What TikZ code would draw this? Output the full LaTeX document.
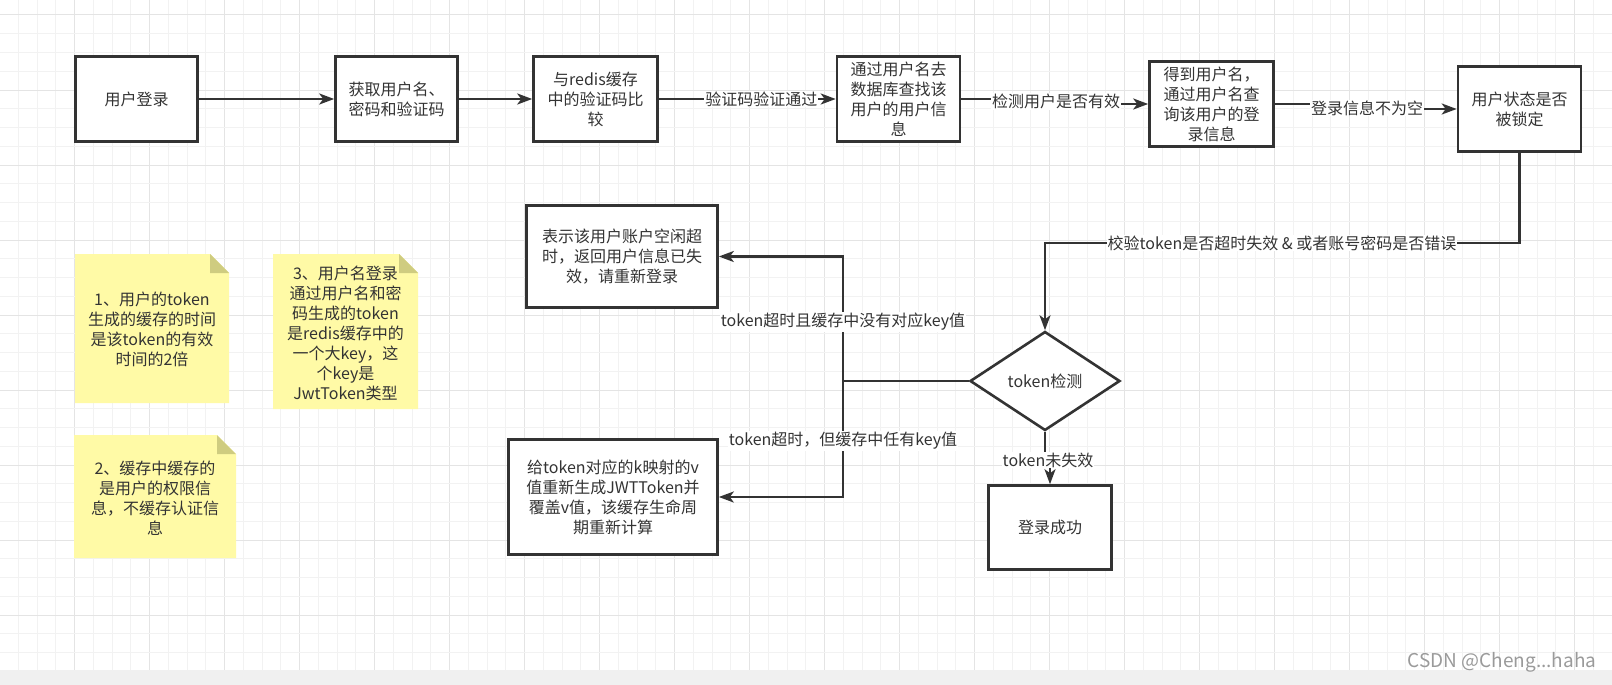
\documentclass[tikz,border=0pt]{standalone}
\usepackage{fontspec}
\setmainfont{Noto Sans CJK SC}
\usetikzlibrary{arrows.meta,shapes.geometric}
\definecolor{ink}{HTML}{333333}
\definecolor{gridminor}{HTML}{F2F2F2}
\definecolor{gridmajor}{HTML}{E4E4E4}
\definecolor{notefill}{HTML}{FFFAA6}
\definecolor{notefold}{HTML}{CFCC80}
\definecolor{band}{HTML}{F0F0F0}
\definecolor{wmark}{HTML}{9A9A9A}
\newcommand\myfs{\fontsize{16}{20}\selectfont}
\tikzset{
  box/.style={draw=ink, line width=2.6pt, fill=white, align=center, text=ink, font=\myfs, inner sep=2pt},
  decision/.style={draw=ink, line width=2.6pt, fill=white, shape=diamond, inner sep=0pt, text=ink, font=\myfs},
  conn/.style={draw=ink, line width=2.4pt, -{Stealth[length=15pt,width=11pt,inset=4pt]}},
  plain/.style={draw=ink, line width=2.4pt},
  lab/.style={fill=white, inner sep=1pt, text=ink, font=\myfs},
  notetext/.style={align=center, text=ink, font=\myfs, inner sep=0pt},
}
\begin{document}
\begin{tikzpicture}[x=1pt,y=-1pt]
\useasboundingbox (0,0) rectangle (1612,685);
% background and grid
\fill[white] (0,0) rectangle (1612,670);
\foreach \k in {1,...,85} {
  \pgfmathsetmacro\xx{18.75*\k-0.3}
  \pgfmathtruncatemacro\mm{mod(\k,4)}
  \ifnum\mm=0
    \draw[gridmajor, line width=1pt] (\xx,0) -- (\xx,670);
  \else
    \draw[gridminor, line width=1pt] (\xx,0) -- (\xx,670);
  \fi
}
\foreach \k in {0,...,34} {
  \pgfmathsetmacro\yy{15+18.75*\k}
  \pgfmathtruncatemacro\mm{mod(\k,4)}
  \ifnum\mm=0
    \draw[gridmajor, line width=1pt] (0,\yy) -- (1612,\yy);
  \else
    \draw[gridminor, line width=1pt] (0,\yy) -- (1612,\yy);
  \fi
}
\fill[band] (0,670) rectangle (1612,685);

% notes
\fill[notefill] (75,254) -- (210,254) -- (229,273) -- (229,403) -- (75,403) -- cycle;
\fill[notefold] (210,254) -- (210,273) -- (229,273) -- cycle;
\node[notetext] (note1) at (152,329) {1、用户的token\\生成的缓存的时间\\是该token的有效\\时间的2倍};

\fill[notefill] (273,254) -- (399,254) -- (418,273) -- (418,409) -- (273,409) -- cycle;
\fill[notefold] (399,254) -- (399,273) -- (418,273) -- cycle;
\node[notetext] (note3) at (345.5,333) {3、用户名登录\\通过用户名和密\\码生成的token\\是redis缓存中的\\一个大key，这\\个key是\\JwtToken类型};

\fill[notefill] (74,435) -- (217,435) -- (236,454) -- (236,558) -- (74,558) -- cycle;
\fill[notefold] (217,435) -- (217,454) -- (236,454) -- cycle;
\node[notetext] (note2) at (155,498) {2、缓存中缓存的\\是用户的权限信\\息，不缓存认证信\\息};

% boxes
\node[box, minimum width=122pt, minimum height=85pt] (n1) at (136.5,99) {用户登录};
\node[box, minimum width=122pt, minimum height=85pt] (n2) at (396.5,99) {获取用户名、\\密码和验证码};
\node[box, minimum width=124pt, minimum height=85pt] (n3) at (595.5,99) {与redis缓存\\中的验证码比\\较};
\node[box, minimum width=123pt, minimum height=85pt] (n4) at (898.5,99) {通过用户名去\\数据库查找该\\用户的用户信\\息};
\node[box, minimum width=124pt, minimum height=85pt] (n5) at (1211.5,104) {得到用户名，\\通过用户名查\\询该用户的登\\录信息};
\node[box, minimum width=123pt, minimum height=85pt] (n6) at (1519.5,109) {用户状态是否\\被锁定};
\node[box, minimum width=191pt, minimum height=102pt] (n7) at (622,256.5) {表示该用户账户空闲超\\时，返回用户信息已失\\效，请重新登录};
\node[box, minimum width=209pt, minimum height=115pt] (n8) at (613,497) {给token对应的k映射的v\\值重新生成JWTToken并\\覆盖v值，该缓存生命周\\期重新计算};
\node[decision, minimum width=150pt, minimum height=99pt] (d) at (1045,381) {token检测};
\node[box, minimum width=123pt, minimum height=84pt] (n9) at (1050,527.5) {登录成功};

% connectors
\draw[conn] (n1.east) -- (n2.west);
\draw[conn] (n2.east) -- (n3.west);
\draw[conn] (n3.east) -- node[lab, pos=0.58] (l1) {验证码验证通过} (n4.west);
\draw[conn] (n4.east) -- ++(95,0) |- (n5.west);
\node[lab] (l2) at (1056,101.5) {检测用户是否有效};
\draw[conn] (n5.east) -- ++(91.5,0) |- (n6.west);
\node[lab] (l3) at (1367,108) {登录信息不为空};
\draw[conn] (n6.south) -- ++(0,90) -| (d.north);
\node[lab] (l4) at (1282,243) {校验token是否超时失效 \& 或者账号密码是否错误};
\coordinate (split) at (843,381);
\draw[plain] (d.west) -- (split);
\draw[conn] (split) |- (n7.east);
\draw[conn] (split) |- (n8.east);
\node[lab] (l5) at (843,322) {token超时且缓存中没有对应key值};
\node[lab] (l6) at (843,441) {token超时，但缓存中任有key值};
\draw[conn] (d.south) -- ++(0,27) -| (n9.north);
\node[lab] (l7) at (1048,460) {token未失效};

% watermark
\node[text=wmark, font=\fontsize{19}{22}\selectfont, inner sep=0pt] (wm) at (1502,662) {CSDN @Cheng...haha};
\end{tikzpicture}
\end{document}
